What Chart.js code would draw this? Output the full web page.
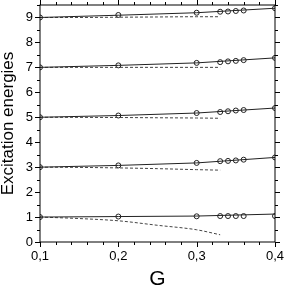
<!DOCTYPE html>
<html>
<head>
<meta charset="utf-8">
<script src="https://cdn.jsdelivr.net/npm/chart.js@4"></script>
<style>
  html, body { margin: 0; padding: 0; background: #fff; }
  #wrap { width: 284px; height: 290px; }
</style>
</head>
<body>
<div id="wrap"><canvas id="chart"></canvas></div>
<script>
// ==================== DATA ====================
const gLine = [0.1, 0.2, 0.3, 0.4];
const gDots = [0.1, 0.2, 0.3, 0.33, 0.34, 0.35, 0.36, 0.4];
const gDash = [0.1, 0.15, 0.2, 0.25, 0.3, 0.33];

const line9 = [9.0, 9.09, 9.19, 9.37];
const line7 = [7.0, 7.08, 7.18, 7.38];
const line5 = [5.0, 5.07, 5.17, 5.37];
const line3 = [3.0, 3.07, 3.17, 3.39];
const line1 = [1.0, 1.02, 1.04, 1.12];

const dots9 = [9.0, 9.10, 9.19, 9.23, 9.24, 9.26, 9.28, 9.37];
const dots7 = [7.0, 7.08, 7.18, 7.21, 7.24, 7.26, 7.29, 7.38];
const dots5 = [5.0, 5.07, 5.17, 5.21, 5.24, 5.27, 5.29, 5.37];
const dots3 = [3.0, 3.07, 3.17, 3.24, 3.25, 3.27, 3.30, 3.39];
const dots1 = [1.0, 1.02, 1.03, 1.04, 1.04, 1.04, 1.04, 1.04];

const dash9 = [9.0, 9.0, 9.01, 9.02, 9.03, 9.03];
const dash7 = [7.0, 7.0, 7.0, 7.0, 7.0, 7.0];
const dash5 = [5.0, 4.995, 4.99, 4.98, 4.97, 4.96];
const dash3 = [3.0, 2.99, 2.97, 2.94, 2.90, 2.88];
const dash1 = [1.0, 0.94, 0.85, 0.67, 0.49, 0.29];

const xMajor = [0.1, 0.2, 0.3, 0.4];

function pts(xs, ys) {
    return xs.map((x, i) => ({ x: x, y: ys[i] }));
}

let datasets = [];
[line1, line3, line5, line7, line9].forEach(ys => {
    datasets.push({ data: pts(gLine, ys), borderColor: '#222', borderWidth: 1, pointRadius: 0, fill: false });
});
[dash1, dash3, dash5, dash7, dash9].forEach(ys => {
    datasets.push({ data: pts(gDash, ys), borderColor: '#444', borderWidth: 1, borderDash: [3, 2], pointRadius: 0, fill: false, cubicInterpolationMode: 'monotone' });
});
[dots1, dots3, dots5, dots7, dots9].forEach(ys => {
    datasets.push({ data: pts(gDots, ys), showLine: false, pointRadius: 2.5, pointBorderWidth: 1,
        pointBorderColor: '#222', pointBackgroundColor: '#fff', clip: 0 });
});

// outward ticks on all four sides + frame
const frameTicks = {
    id: 'frameTicks',
    afterDatasetsDraw(chart) {
        const ctx = chart.ctx, a = chart.chartArea;
        const xs = chart.scales.x, ys = chart.scales.y;
        ctx.save();
        ctx.strokeStyle = '#000';
        ctx.lineWidth = 1;
        ctx.strokeRect(a.left, a.top, a.right - a.left, a.bottom - a.top);
        ctx.beginPath();
        xs.ticks.forEach(t => {
            let px = Math.round(xs.getPixelForValue(t.value)) + 0.5;
            let major = xMajor.some(m => Math.abs(m - t.value) < 1e-6);
            let len = major ? 5 : 3;
            ctx.moveTo(px, a.bottom); ctx.lineTo(px, a.bottom + len);
            ctx.moveTo(px, a.top); ctx.lineTo(px, a.top - len);
        });
        ys.ticks.forEach(t => {
            let py = Math.round(ys.getPixelForValue(t.value)) + 0.5;
            let major = Math.abs(t.value - Math.round(t.value)) < 1e-6;
            let len = major ? 5 : 3;
            ctx.moveTo(a.left, py); ctx.lineTo(a.left - len, py);
            ctx.moveTo(a.right, py); ctx.lineTo(a.right + len, py);
        });
        ctx.stroke();
        ctx.restore();
    }
};

new Chart(document.getElementById('chart'), {
    type: 'line',
    data: { datasets: datasets },
    options: {
        responsive: true,
        maintainAspectRatio: false,
        animation: false,
        layout: { padding: { top: 5, right: 9, left: 0, bottom: 0 } },
        plugins: { legend: { display: false }, tooltip: { enabled: false } },
        scales: {
            x: {
                type: 'linear', min: 0.1, max: 0.4,
                grid: { display: false, drawTicks: false },
                border: { display: false },
                ticks: {
                    stepSize: 0.02, autoSkip: false, maxRotation: 0, padding: 7,
                    color: '#000', font: { family: 'Liberation Sans', size: 13 },
                    callback: v => xMajor.some(m => Math.abs(m - v) < 1e-6) ? v.toFixed(1).replace('.', ',') : ''
                },
                title: { display: true, text: 'G', color: '#000', font: { family: 'Liberation Sans', size: 21, lineHeight: 1 }, padding: 0 },
                afterFit: s => { s.height = 48; s.paddingLeft = 0; s.paddingRight = 0; }
            },
            y: {
                min: 0, max: 9.5,
                grid: { display: false, drawTicks: false },
                border: { display: false },
                ticks: {
                    stepSize: 0.5, autoSkip: false, padding: 7,
                    color: '#000', font: { family: 'Liberation Sans', size: 13 },
                    callback: v => Math.abs(v - Math.round(v)) < 1e-6 ? String(Math.round(v)) : ''
                },
                title: { display: true, text: 'Excitation energies', color: '#000', font: { family: 'Liberation Sans', size: 17, lineHeight: 1 }, padding: 0 },
                afterFit: s => { s.width = 40; s.paddingTop = 0; s.paddingBottom = 0; }
            }
        }
    },
    plugins: [frameTicks]
});
</script>
</body>
</html>
